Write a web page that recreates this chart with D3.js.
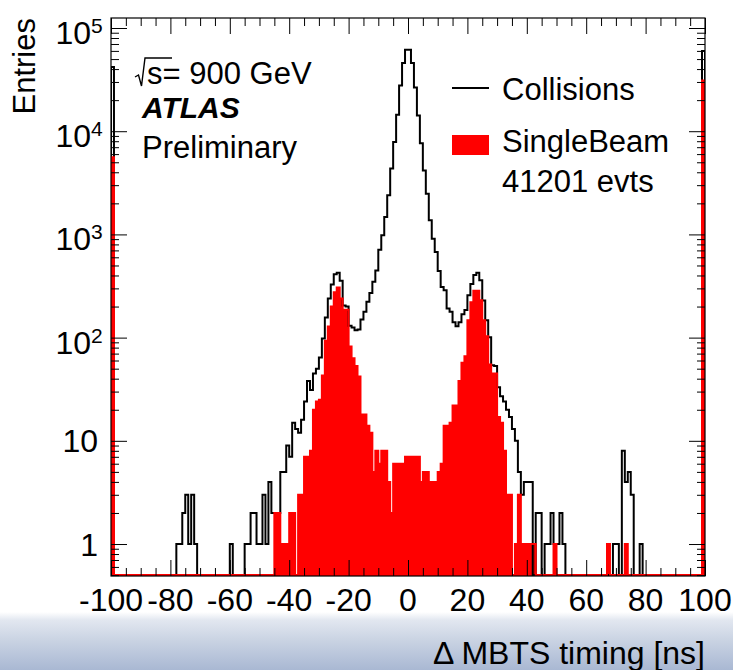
<!DOCTYPE html>
<html>
<head>
<meta charset="utf-8">
<script src="https://d3js.org/d3.v7.min.js"></script>
<style>
  body { margin: 0; background: #fff; }
  svg text { font-family: "Liberation Sans", Arial, Helvetica, sans-serif; fill: #000; }
</style>
</head>
<body>
<div id="chart"></div>
<script>
// histogram binning: 1 ns bins from -100 to 100
var binLow = -100;

// entries per bin, 10 bins per row (row label = first bin)
var collisions = [
  42000, 0, 0, 0, 0, 0, 0, 0, 0, 0,          // -100
  0, 0, 0, 0, 0, 0, 0, 0, 0, 0,              // -90
  0, 0, 1, 1, 2, 3, 1, 3, 1, 0,              // -80
  0, 0, 0, 0, 0, 0, 0, 0, 0, 0,              // -70
  1, 0, 0, 0, 0, 1, 1, 2, 2, 1,              // -60
  1, 3, 1, 4, 2, 2, 2, 5, 5, 9,              // -50
  7, 15, 13, 12, 16, 24, 38, 31, 45, 50,     // -40
  64, 98, 157, 240, 327, 410, 425, 355, 205, 200,   // -30
  130, 125, 118, 120, 150, 178, 223, 270, 347, 447, // -20
  710, 980, 1475, 2390, 4340, 7850, 14400, 27800, 45700, 61500, // -10
  61500, 45700, 26500, 14200, 7650, 4170, 2480, 1370, 910, 675, // 0
  443, 310, 288, 191, 178, 141, 129, 141, 168, 185, // 10
  258, 330, 405, 424, 360, 229, 147, 101, 54, 53,   // 20
  33, 27, 24, 20, 17, 13, 10, 5, 3, 4,       // 30
  4, 4, 0, 2, 2, 0, 1, 1, 2, 1,              // 40
  1, 2, 1, 0, 0, 0, 0, 0, 0, 0,              // 50
  0, 0, 0, 0, 0, 0, 0, 0, 0, 1,              // 60
  1, 0, 8, 4, 5, 3, 0, 0, 1, 0,              // 70
  0, 0, 0, 0, 0, 0, 0, 0, 0, 0,              // 80
  0, 0, 0, 0, 0, 0, 0, 0, 0, 60000           // 90
];

var singleBeam = [
  5600, 0, 0, 0, 0, 0, 0, 0, 0, 0,           // -100
  0, 0, 0, 0, 0, 0, 0, 0, 0, 0,              // -90
  0, 0, 0, 0, 0, 0, 0, 0, 0, 0,              // -80
  0, 0, 0, 0, 0, 0, 0, 0, 0, 0,              // -70
  0, 0, 0, 0, 0, 0, 0, 0, 0, 0,              // -60
  0, 0, 0, 0, 0, 2, 2, 1, 1, 1,              // -50
  2, 2, 0, 3, 3, 7, 7, 8, 20, 24,            // -40
  25, 43, 93, 128, 200, 275, 306, 240, 186, 186,   // -30
  82, 63, 53, 42, 18, 18, 14, 12, 5, 8,      // -20
  6, 8, 8, 4, 2, 6, 6, 6, 6, 7,              // -10
  7, 7, 7, 7, 4, 5, 5, 4, 4, 4,              // 0
  5, 6, 14, 14, 15, 22, 22, 38, 57, 66,      // 10
  147, 220, 285, 285, 230, 147, 103, 55, 45, 45,   // 20
  17, 15, 8, 3, 3, 0, 1, 3, 1, 1,            // 30
  1, 1, 1, 0, 0, 0, 0, 0, 0, 1,              // 40
  0, 0, 0, 0, 0, 0, 0, 0, 0, 0,              // 50
  0, 0, 0, 0, 0, 0, 0, 1, 0, 0,              // 60
  0, 0, 0, 1, 0, 0, 0, 0, 0, 0,              // 70
  0, 0, 0, 0, 0, 0, 0, 0, 0, 0,              // 80
  0, 0, 0, 0, 0, 0, 0, 0, 0, 31000           // 90
];

var xTickLabels = [-100, -80, -60, -40, -20, 0, 20, 40, 60, 80, 100];
var yDecades = [1, 10, 100, 1000, 10000, 100000];
var legendLabels = ["Collisions", "SingleBeam", "41201 evts"];

var width = 733,
  height = 670,
  frame = { left: 111, right: 705, top: 18, bottom: 576 };

var svg = d3.select("#chart").append("svg")
  .attr("width", width)
  .attr("height", height);

// slide background band below the plot
var defs = svg.append("defs");
var grad = defs.append("linearGradient")
  .attr("id", "band")
  .attr("x1", 0).attr("y1", 0).attr("x2", 0).attr("y2", 1);
grad.append("stop").attr("offset", "0%").attr("stop-color", "#ffffff");
grad.append("stop").attr("offset", "14%").attr("stop-color", "#e2e7f0");
grad.append("stop").attr("offset", "45%").attr("stop-color", "#ccd5e4");
grad.append("stop").attr("offset", "100%").attr("stop-color", "#a9b8d3");
svg.append("rect")
  .attr("x", 0).attr("y", 612)
  .attr("width", width).attr("height", height - 612)
  .attr("fill", "url(#band)");

defs.append("clipPath").attr("id", "plotClip")
  .append("rect")
  .attr("x", frame.left).attr("y", frame.top)
  .attr("width", frame.right - frame.left)
  .attr("height", frame.bottom - frame.top);

// scales
var x = d3.scaleLinear().domain([-100, 100]).range([frame.left, frame.right]);
var y = d3.scaleLog().domain([0.49, 1.25e5]).range([frame.bottom, frame.top]);

function toBins(values) {
  return values.map(function (v, i) {
    return { lo: binLow + i, hi: binLow + i + 1, v: v };
  });
}
var collBins = toBins(collisions);
var beamBins = toBins(singleBeam);

var yZero = frame.bottom - 1;
function yOf(v) { return v > 0 ? y(v) : yZero; }

// ROOT-style step outline
function stepPath(bins, base) {
  var p = d3.path();
  p.moveTo(x(bins[0].lo), base);
  bins.forEach(function (b) {
    var yy = b.v > 0 ? y(b.v) : base;
    p.lineTo(x(b.lo), yy);
    p.lineTo(x(b.hi), yy);
  });
  p.lineTo(x(bins[bins.length - 1].hi), base);
  return p.toString();
}

var plot = svg.append("g").attr("clip-path", "url(#plotClip)");

// SingleBeam filled histogram
plot.append("path")
  .attr("d", stepPath(beamBins, frame.bottom) + "Z")
  .attr("fill", "#ff0000")
  .attr("stroke", "none");

// Collisions line histogram
plot.append("path")
  .attr("d", stepPath(collBins, yZero))
  .attr("fill", "none")
  .attr("stroke", "#000")
  .attr("stroke-width", 2)
  .attr("stroke-linejoin", "miter");

// frame
svg.append("rect")
  .attr("x", frame.left).attr("y", frame.top)
  .attr("width", frame.right - frame.left)
  .attr("height", frame.bottom - frame.top)
  .attr("fill", "none")
  .attr("stroke", "#000")
  .attr("stroke-width", 1.2);

// red outline of the SingleBeam histogram (runs along the bottom for empty bins)
plot.append("path")
  .attr("d", stepPath(beamBins, yZero))
  .attr("fill", "none")
  .attr("stroke", "#ff0000")
  .attr("stroke-width", 2);

// ticks on all four sides
var xMinor = d3.range(-95, 100, 5).filter(function (v) { return v % 20 !== 0; });
var yMinor = [];
[0.1, 1, 10, 100, 1000, 10000].forEach(function (d) {
  [2, 3, 4, 5, 6, 7, 8, 9].forEach(function (m) {
    var v = d * m;
    if (v >= 0.49 && v <= 1.25e5) yMinor.push(v);
  });
});

function styleAxis(g) {
  g.select(".domain").remove();
  g.selectAll(".tick line").attr("stroke", "#000").attr("stroke-width", 1);
  g.selectAll(".tick text").remove();
}

svg.append("g").attr("transform", "translate(0," + frame.bottom + ")")
  .call(d3.axisBottom(x).tickValues(xTickLabels).tickSize(-16)).call(styleAxis);
svg.append("g").attr("transform", "translate(0," + frame.bottom + ")")
  .call(d3.axisBottom(x).tickValues(xMinor).tickSize(-8)).call(styleAxis);
svg.append("g").attr("transform", "translate(0," + frame.top + ")")
  .call(d3.axisTop(x).tickValues(xTickLabels).tickSize(-16)).call(styleAxis);
svg.append("g").attr("transform", "translate(0," + frame.top + ")")
  .call(d3.axisTop(x).tickValues(xMinor).tickSize(-8)).call(styleAxis);

svg.append("g").attr("transform", "translate(" + frame.left + ",0)")
  .call(d3.axisLeft(y).tickValues(yDecades).tickSize(-16)).call(styleAxis);
svg.append("g").attr("transform", "translate(" + frame.left + ",0)")
  .call(d3.axisLeft(y).tickValues(yMinor).tickSize(-8)).call(styleAxis);
svg.append("g").attr("transform", "translate(" + frame.right + ",0)")
  .call(d3.axisRight(y).tickValues(yDecades).tickSize(-16)).call(styleAxis);
svg.append("g").attr("transform", "translate(" + frame.right + ",0)")
  .call(d3.axisRight(y).tickValues(yMinor).tickSize(-8)).call(styleAxis);

// x tick labels
svg.selectAll(".xlabel")
  .data(xTickLabels)
  .enter()
  .append("text")
  .attr("class", "xlabel")
  .attr("x", function (d) { return x(d); })
  .attr("y", 611)
  .attr("text-anchor", "middle")
  .attr("font-size", "32px")
  .text(function (d) { return d; });

// y tick labels: 1, 10, then 10^n
yDecades.forEach(function (d) {
  var exp = Math.round(Math.log10(d));
  if (exp < 2) {
    svg.append("text")
      .attr("x", 98)
      .attr("y", y(d) + 11.5)
      .attr("text-anchor", "end")
      .attr("font-size", "32px")
      .text(d);
  } else {
    svg.append("text")
      .attr("x", 91)
      .attr("y", y(d) + 16)
      .attr("text-anchor", "end")
      .attr("font-size", "32px")
      .text("10");
    svg.append("text")
      .attr("x", 91)
      .attr("y", y(d) + 5)
      .attr("font-size", "21px")
      .text(exp);
  }
});

// axis titles
svg.append("text")
  .attr("transform", "translate(35," + frame.top + ") rotate(-90)")
  .attr("text-anchor", "end")
  .attr("font-size", "31px")
  .text("Entries");

svg.append("text")
  .attr("x", frame.right)
  .attr("y", 664)
  .attr("text-anchor", "end")
  .attr("font-size", "32px")
  .text("\u0394 MBTS timing [ns]");

// energy / ATLAS label
svg.append("path")
  .attr("d", "M135,77 L138.5,75 L141.5,86 L145,58 L172,58")
  .attr("fill", "none")
  .attr("stroke", "#000")
  .attr("stroke-width", 1.4);
svg.append("text")
  .attr("x", 147).attr("y", 84)
  .attr("font-size", "31px")
  .text("s= 900 GeV");
svg.append("text")
  .attr("x", 142).attr("y", 118)
  .attr("font-size", "30px")
  .attr("font-weight", "bold")
  .attr("font-style", "italic")
  .text("ATLAS");
svg.append("text")
  .attr("x", 142).attr("y", 158)
  .attr("font-size", "31px")
  .text("Preliminary");

// legend
var legend = svg.append("g");
legend.append("line")
  .attr("x1", 452).attr("x2", 489)
  .attr("y1", 88).attr("y2", 88)
  .attr("stroke", "#000")
  .attr("stroke-width", 2);
legend.append("rect")
  .attr("x", 452).attr("y", 135)
  .attr("width", 37).attr("height", 20)
  .attr("fill", "#ff0000");
legend.selectAll("text")
  .data(legendLabels)
  .enter()
  .append("text")
  .attr("x", 502)
  .attr("y", function (d, i) { return [100, 152, 192][i]; })
  .attr("font-size", "31px")
  .text(function (d) { return d; });
</script>
</body>
</html>
